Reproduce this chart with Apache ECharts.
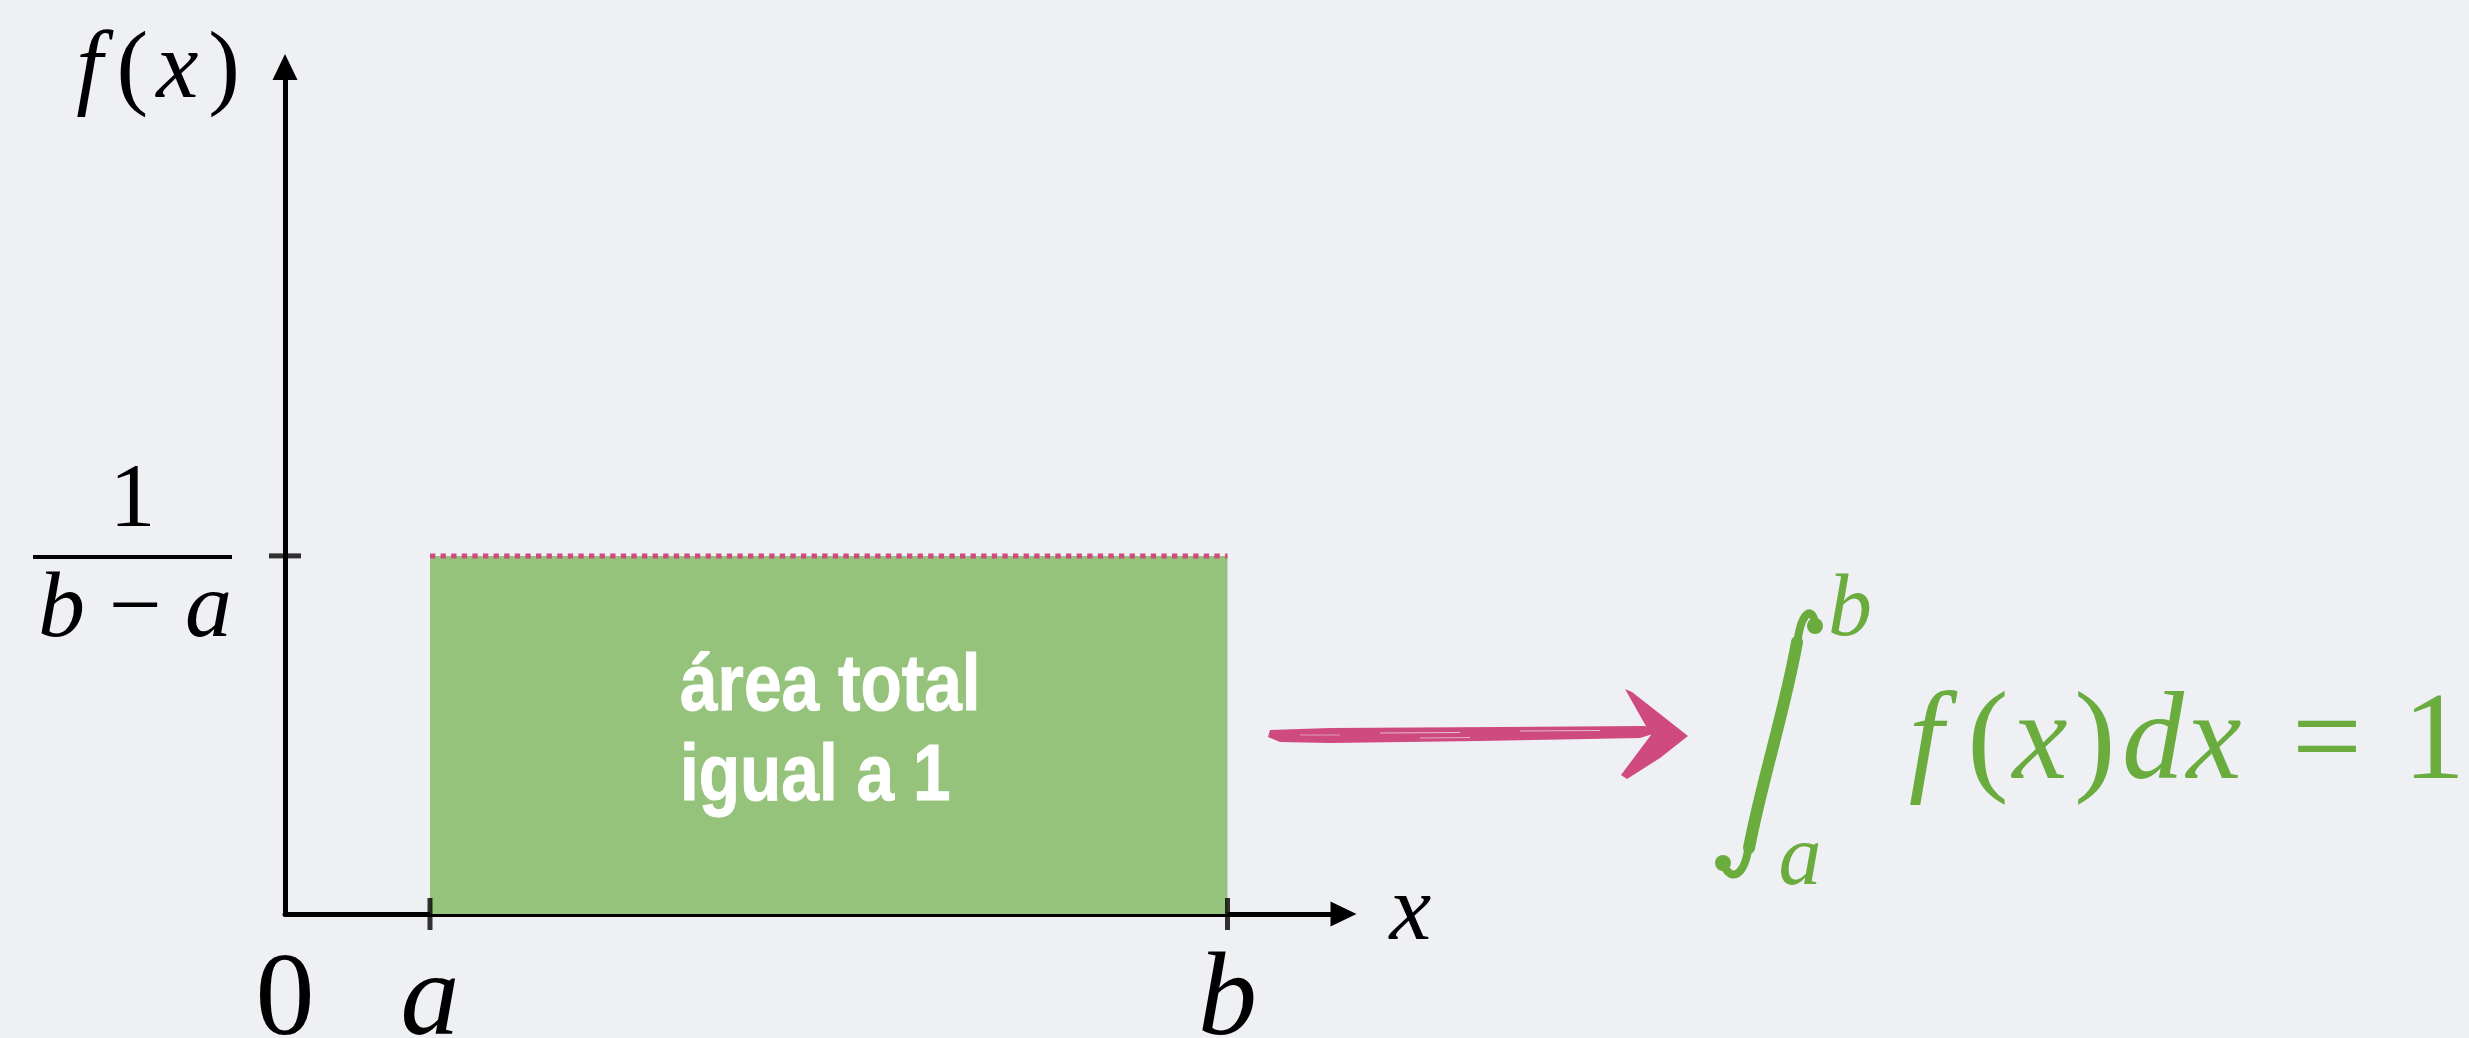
<!DOCTYPE html>
<html>
<head>
<meta charset="utf-8">
<script src="https://cdn.jsdelivr.net/npm/echarts@6/dist/echarts.min.js"></script>
<style>
  html, body { margin: 0; padding: 0; background: #eef0f4; }
  #chart { width: 2469px; height: 1038px; }
</style>
</head>
<body>
<div id="chart"></div>
<script>
// Uniform density on [a, b]
const supportX = [1, 6.5];            // a, b
const densityY = [0.1818, 0.1818];    // f(x) = 1/(b - a) on [a, b]
const xTickValues = [0, 1, 6.5];
const xTickNames = ['0', 'a', 'b'];
const yTickValues = [0.1818];

const SERIF = "'Liberation Serif', 'DejaVu Serif', serif";
const INK = '#000000';
const GREEN_FILL = '#95c37b';
const GREEN_TEXT = '#6aac3d';
const PINK = '#cf4a7e';
const BG = '#eef0f4';

const chart = echarts.init(document.getElementById('chart'), null, { renderer: 'canvas' });

function near(v, list) {
  for (let i = 0; i < list.length; i++) if (Math.abs(v - list[i]) < 1e-6) return i;
  return -1;
}

const rectData = supportX.map((x, i) => [x, densityY[i]]);
const tickMarks = [
  ...supportX.map(x => ({ value: [x, 0], symbolSize: [5, 32] })),
  ...yTickValues.map(y => ({ value: [0, y], symbolSize: [32, 5] }))
];

// Glyphs of the formula  ∫_a^b f(x)dx = 1  (centre x, italic?)
const formulaGlyphs = [
  ['f', 1926, true], ['(', 1988, false], ['x', 2040, true], [')', 2095, false],
  ['d', 2153, true], ['x', 2214, true], ['=', 2327, false], ['1', 2434, false]
];
const formulaText = formulaGlyphs.map(([ch, cx, it]) => ({
  type: 'text', x: cx, y: 745, z: 10,
  style: {
    text: ch, font: (it ? 'italic ' : '') + '124px ' + SERIF,
    fill: GREEN_TEXT, textAlign: 'center', textVerticalAlign: 'middle'
  }
}));

const option = {
  backgroundColor: BG,
  animation: false,
  grid: {
    left: 285, top: 67, width: 1058.5, height: 847,
    outerBoundsMode: 'none', containLabel: false
  },
  xAxis: {
    type: 'value', min: 0, max: 7.3, interval: 0.5,
    splitLine: { show: false },
    axisTick: { show: false },
    axisLine: {
      onZero: false,
      lineStyle: { color: INK, width: 5 },
      symbol: ['none', 'triangle'], symbolSize: [25, 26]
    },
    axisLabel: {
      margin: 30,
      showMaxLabel: false,
      formatter: v => {
        const i = near(v, xTickValues);
        if (i < 0) return '';
        return i === 0 ? '{u|' + xTickNames[i] + '}' : '{i|' + xTickNames[i] + '}';
      },
      rich: {
        u: { fontFamily: SERIF, fontSize: 118, color: INK },
        i: { fontFamily: SERIF, fontSize: 118, fontStyle: 'italic', color: INK }
      }
    },
    name: '{i|x}',
    nameLocation: 'end',
    nameGap: 46,
    nameTextStyle: {
      verticalAlign: 'middle', align: 'left',
      rich: { i: { fontFamily: SERIF, fontSize: 94, fontStyle: 'italic', color: INK } }
    }
  },
  yAxis: {
    type: 'value', min: 0, max: 0.43, interval: 0.1818,
    splitLine: { show: false },
    axisTick: { show: false },
    axisLine: {
      onZero: false,
      lineStyle: { color: INK, width: 5 },
      symbol: ['none', 'triangle'], symbolSize: [25, 26]
    },
    axisLabel: {
      margin: 53,
      showMaxLabel: false,
      formatter: v => {
        if (near(v, yTickValues) < 0) return '';
        return '{n|1}\n{bar|}\n{db|b}{dm| − }{da|a}';
      },
      rich: {
        n: { fontFamily: SERIF, fontSize: 92, color: INK, align: 'center', lineHeight: 106 },
        bar: { width: 199, height: 4, backgroundColor: INK, lineHeight: 4 },
        db: { fontFamily: SERIF, fontSize: 94, fontStyle: 'italic', color: INK, lineHeight: 104 },
        dm: { fontFamily: SERIF, fontSize: 94, color: INK, lineHeight: 104 },
        da: { fontFamily: SERIF, fontSize: 94, fontStyle: 'italic', color: INK, lineHeight: 104 }
      }
    },
    name: '{i|f}{u|(}{i|x}{v|)}',
    nameLocation: 'end',
    nameGap: -5,
    nameTextStyle: {
      verticalAlign: 'middle', align: 'right', padding: [0, 45, 0, 0],
      rich: {
        i: { fontFamily: SERIF, fontSize: 95, fontStyle: 'italic', color: INK },
        u: { fontFamily: SERIF, fontSize: 95, color: INK, padding: [0, 8, 0, 14] },
        v: { fontFamily: SERIF, fontSize: 95, color: INK, padding: [0, 0, 0, 10] }
      }
    }
  },
  series: [
    {
      name: 'densidad',
      type: 'line',
      data: rectData,
      symbol: 'none',
      z: 2,
      lineStyle: { color: PINK, width: 5, type: [5.3, 5.3] },
      areaStyle: { color: GREEN_FILL, opacity: 1 }
    },
    {
      name: 'marcas',
      type: 'scatter',
      data: tickMarks,
      symbol: 'rect',
      itemStyle: { color: INK },
      z: 5,
      silent: true
    }
  ],
  graphic: [
    {
      type: 'text', x: 680, y: 643, z: 10, scaleX: 0.845,
      style: {
        text: 'área total\nigual a 1',
        font: "bold 80px 'Liberation Sans', sans-serif",
        fill: '#ffffff', stroke: '#ffffff', lineWidth: 1, lineJoin: 'round',
        lineHeight: 90, textVerticalAlign: 'top'
      }
    },
    // brush-stroke arrow
    {
      type: 'polygon', z: 10,
      shape: { points: [[1270, 730], [1330, 728], [1500, 727], [1645, 726], [1656, 733], [1640, 738], [1480, 741], [1330, 743], [1280, 742], [1268, 737]] },
      style: { fill: PINK }
    },
    {
      type: 'polygon', z: 10,
      shape: { points: [[1625, 689], [1632, 692], [1688, 736], [1660, 758], [1627, 779], [1621, 775], [1651, 735]] },
      style: { fill: PINK }
    },
    { type: 'line', z: 11, shape: { x1: 1380, y1: 733, x2: 1460, y2: 732.5 }, style: { stroke: BG, lineWidth: 1.2, opacity: 0.7 } },
    { type: 'line', z: 11, shape: { x1: 1520, y1: 731, x2: 1600, y2: 730.5 }, style: { stroke: BG, lineWidth: 1.2, opacity: 0.7 } },
    { type: 'line', z: 11, shape: { x1: 1420, y1: 738, x2: 1470, y2: 737.5 }, style: { stroke: BG, lineWidth: 1, opacity: 0.6 } },
    { type: 'line', z: 11, shape: { x1: 1300, y1: 735, x2: 1340, y2: 735 }, style: { stroke: BG, lineWidth: 1, opacity: 0.5 } },
    // integral sign: hooks, stem, ball terminals
    {
      type: 'bezierCurve', z: 10,
      shape: { x1: 1797, y1: 646, cpx1: 1800, cpy1: 615, cpx2: 1811, cpy2: 604, x2: 1815, y2: 622 },
      style: { stroke: GREEN_TEXT, lineWidth: 8, fill: null, lineCap: 'round' }
    },
    {
      type: 'bezierCurve', z: 10,
      shape: { x1: 1797, y1: 642, cpx1: 1785, cpy1: 710, cpx2: 1762, cpy2: 780, x2: 1749, y2: 848 },
      style: { stroke: GREEN_TEXT, lineWidth: 12, fill: null, lineCap: 'round' }
    },
    {
      type: 'bezierCurve', z: 10,
      shape: { x1: 1749, y1: 844, cpx1: 1745, cpy1: 876, cpx2: 1732, cpy2: 882, x2: 1724, y2: 866 },
      style: { stroke: GREEN_TEXT, lineWidth: 8, fill: null, lineCap: 'round' }
    },
    { type: 'circle', z: 10, shape: { cx: 1815, cy: 626, r: 8 }, style: { fill: GREEN_TEXT } },
    { type: 'circle', z: 10, shape: { cx: 1723, cy: 863, r: 8 }, style: { fill: GREEN_TEXT } },
    {
      type: 'text', x: 1850, y: 612, z: 10,
      style: { text: 'b', font: 'italic 88px ' + SERIF, fill: GREEN_TEXT, textAlign: 'center', textVerticalAlign: 'middle' }
    },
    {
      type: 'text', x: 1800, y: 861, z: 10,
      style: { text: 'a', font: 'italic 86px ' + SERIF, fill: GREEN_TEXT, textAlign: 'center', textVerticalAlign: 'middle' }
    },
    ...formulaText
  ]
};

chart.setOption(option);
</script>
</body>
</html>
